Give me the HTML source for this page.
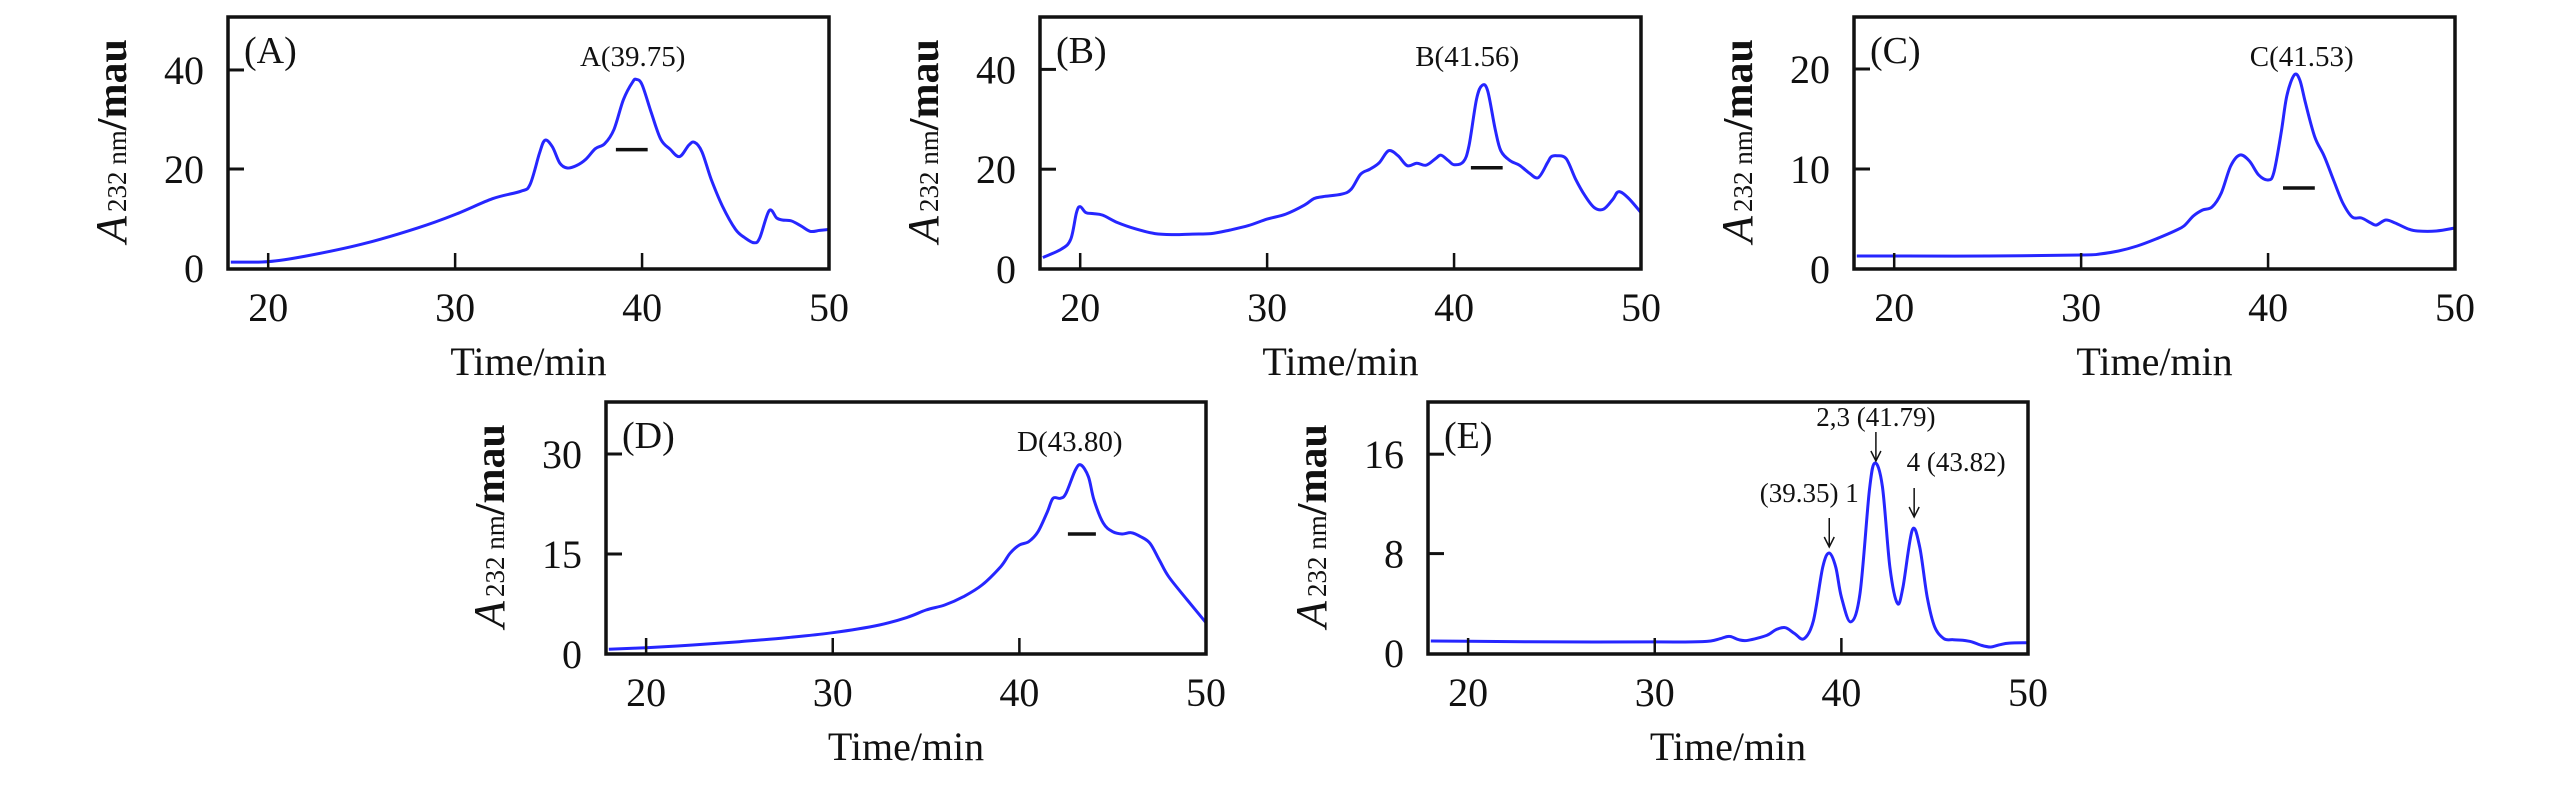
<!DOCTYPE html>
<html><head><meta charset="utf-8"><style>
html,body{margin:0;padding:0;background:#fff;}
svg{display:block;font-family:"Liberation Serif",serif;}
</style></head>
<body>
<svg id="fig" width="2567" height="787" viewBox="0 0 2567 787" xmlns="http://www.w3.org/2000/svg"></svg>
<script>
// ---- Data (time in min, absorbance in mau) ----
const timeA=[18,20,22,25,28,30,32,33.5,34,34.5,34.8,35.2,35.6,36,36.5,37,37.5,38,38.5,39,39.5,39.7,40,40.5,41,41.5,42,42.5,42.8,43.2,43.7,44.3,45,45.5,46,46.3,46.8,47.2,47.5,48,48.5,49,49.5,50];
const valA=[1.2,1.3,2.4,4.8,8.1,10.8,14,15.5,16.8,23,25.8,24.5,21.2,20.2,20.7,22,24.1,25.1,28,34,37.6,38.1,37,31.3,26,24,22.5,24.8,25.4,23.5,17.9,12.5,7.8,6.1,5.1,6.1,11.6,10.1,9.7,9.5,8.5,7.4,7.6,7.8];
const timeB=[18,19,19.5,19.8,20,20.3,20.7,21.2,22,23,24,25,26,27,28,29,30,31,32,32.5,33,34,34.5,35,35.5,36,36.5,37,37.5,38,38.5,39,39.3,39.7,40,40.5,40.8,41.2,41.5,41.8,42.2,42.5,43,43.5,44,44.5,45,45.2,45.5,46,46.5,47,47.5,48,48.5,48.8,49.3,50];
const valB=[2.3,4,6,11.3,12.5,11.3,11.1,10.8,9.3,8,7.1,6.9,7,7.1,7.8,8.7,10,11,12.8,14.1,14.5,15,16,19,20,21.3,23.7,22.7,20.7,21.2,20.8,22.1,22.8,21.7,20.9,21.5,24.7,34,36.8,35.7,28,23.7,21.7,20.8,19.3,18.3,21.3,22.5,22.7,22.1,18,14.7,12.3,12,14,15.5,14.3,11.3];
const timeC=[18,20,25,30,31,32,33,34,35,35.5,36,36.5,37,37.5,38,38.5,39,39.5,40,40.3,40.7,41,41.4,41.7,42,42.5,43,43.5,44,44.5,45,45.5,45.8,46.3,46.8,47.5,48,49,50];
const valC=[1.3,1.3,1.3,1.4,1.5,1.8,2.3,3,3.8,4.3,5.3,5.9,6.2,7.6,10.3,11.4,10.8,9.4,8.9,9.6,13.6,17.3,19.4,18.9,16.6,13.2,11.3,8.9,6.6,5.2,5.1,4.6,4.4,4.9,4.6,4,3.8,3.8,4.1];
const timeD=[18,20,22.5,25,27.5,30,32.5,34,35,36,37,38,39,39.5,40,40.5,41,41.5,41.8,42.2,42.5,43,43.3,43.7,44,44.5,45,45.5,46,46.5,47,47.5,48,49,50];
const valD=[0.7,0.95,1.35,1.85,2.45,3.2,4.35,5.5,6.6,7.35,8.6,10.35,13.1,15.1,16.35,16.85,18.35,21.35,23.35,23.35,24.1,27.6,28.35,26.6,23.1,19.6,18.35,18,18.2,17.6,16.6,14.1,11.6,8.1,4.7];
const timeE=[18,20,25,30,32,33,33.5,34,34.5,35,36,36.5,37,37.5,38,38.5,39,39.35,39.7,40,40.5,41,41.5,41.8,42.2,42.6,43,43.3,43.8,44.2,44.6,45,45.5,46,46.5,47,47.5,48,48.5,49,50];
const valE=[0.97,0.94,0.89,0.89,0.89,0.97,1.15,1.34,1.07,1.02,1.42,1.88,2.04,1.56,1.15,2.6,6.9,8.05,6.9,4.5,2.5,4.8,13.1,15.3,13.4,6.9,4,5.3,9.9,8.5,4.5,2.1,1.15,1.07,1.02,0.89,0.62,0.48,0.67,0.8,0.83];
const xTicks=[20,30,40,50];
const yTicksA=[0,20,40], yTicksB=[0,20,40], yTicksC=[0,10,20], yTicksD=[0,15,30], yTicksE=[0,8,16];
const panelLabels=["(A)","(B)","(C)","(D)","(E)"];
const peakLabels=["A(39.75)","B(41.56)","C(41.53)","D(43.80)"];
const peakBarsX=[[38.6,40.3],[40.9,42.6],[40.8,42.5],[42.6,44.1]];
const peakBarsY=[23.9,20.3,8.1,18];
const labelTimes=[39.5,40.7,41.8,42.7];
const arrowTimes=[39.35,41.85,43.9];
const arrowLabels=["(39.35) 1","2,3 (41.79)","4 (43.82)"];

const NS="http://www.w3.org/2000/svg";
const svg=document.getElementById('fig');
function mk(tag,attrs,parent){const e=document.createElementNS(NS,tag);for(const k in attrs)e.setAttribute(k,attrs[k]);(parent||svg).appendChild(e);return e;}

const panels=[
 {L:228,R:829,T:17,B:269,y0:-0.2,y1:50.7,t:timeA,v:valA,yt:yTicksA,name:'a'},
 {L:1040,R:1641,T:17,B:269,y0:0,y1:50.5,t:timeB,v:valB,yt:yTicksB,name:'b'},
 {L:1854,R:2455,T:17,B:269,y0:0,y1:25.2,t:timeC,v:valC,yt:yTicksC,name:'c'},
 {L:606,R:1206,T:402,B:654,y0:0,y1:37.8,t:timeD,v:valD,yt:yTicksD,name:'d'},
 {L:1428,R:2028,T:402,B:654,y0:-0.08,y1:20.2,t:timeE,v:valE,yt:yTicksE,name:'e'}
];
const X0=17.85,X1=50;

panels.forEach((p,i)=>{
  const g=mk('g',{});
  
  
  const sx=t=>p.L+(t-X0)/(X1-X0)*(p.R-p.L);
  const sy=v=>p.B-(v-p.y0)/(p.y1-p.y0)*(p.B-p.T);
  // curve (Catmull-Rom smoothing)
  const pts=p.t.map((t,k)=>[sx(t),sy(p.v[k])]);
  let d='M'+pts[0][0].toFixed(1)+','+pts[0][1].toFixed(1);
  for(let k=0;k<pts.length-1;k++){
    const p0=pts[Math.max(0,k-1)],p1=pts[k],p2=pts[k+1],p3=pts[Math.min(pts.length-1,k+2)];
    const c1=[p1[0]+(p2[0]-p0[0])/6,p1[1]+(p2[1]-p0[1])/6];
    const c2=[p2[0]-(p3[0]-p1[0])/6,p2[1]-(p3[1]-p1[1])/6];
    d+=' C'+c1[0].toFixed(1)+','+c1[1].toFixed(1)+' '+c2[0].toFixed(1)+','+c2[1].toFixed(1)+' '+p2[0].toFixed(1)+','+p2[1].toFixed(1);
  }
  const cp=mk('clipPath',{id:'clip'+i},g);
  mk('rect',{x:p.L,y:p.T,width:p.R-p.L,height:p.B-p.T},cp);
  const line=mk('path',{d:d,fill:'none',stroke:'#2626ff','stroke-width':3,'clip-path':'url(#clip'+i+')'},g);
  
  
  // frame
  const fr=mk('rect',{x:p.L,y:p.T,width:p.R-p.L,height:p.B-p.T,fill:'none',stroke:'#111','stroke-width':3.5},g);
  
  
  // x ticks & labels
  xTicks.forEach(t=>{
    const x=sx(t);
    if(t<X1) mk('line',{x1:x,y1:p.B,x2:x,y2:p.B-16,stroke:'#111','stroke-width':2.5},g);
    const tl=mk('text',{x:x,y:p.B+52,'font-size':40,'text-anchor':'middle',fill:'#111'},g);
    tl.textContent=t;
    
    
  });
  // y ticks & labels
  p.yt.forEach(v=>{
    const y=sy(v);
    if(v>p.y0+0.5) mk('line',{x1:p.L,y1:y,x2:p.L+16,y2:y,stroke:'#111','stroke-width':3},g);
    const tl=mk('text',{x:p.L-24,y:y+14,'font-size':40,'text-anchor':'end',fill:'#111'},g);
    tl.textContent=v;
    
    
  });
  // x title
  const xt=mk('text',{x:(p.L+p.R)/2,y:p.B+106,'font-size':40,'text-anchor':'middle',fill:'#111'},g);
  xt.textContent='Time/min';
  
  
  // y title
  const ycx=p.L-116, ycy=(p.T+p.B)/2-2;
  const yt=mk('text',{x:0,y:0,'font-size':40,'text-anchor':'middle',fill:'#111',transform:'translate('+ycx+','+ycy+') rotate(-90) translate(0,14)'},g);
  
  
  const s1=mk('tspan',{'font-style':'italic','font-size':44},yt);s1.textContent='A';
  const s2=mk('tspan',{'font-size':27,dx:4},yt);s2.textContent='232 nm';
  const s3=mk('tspan',{'font-weight':'bold','font-size':42},yt);s3.textContent='/mau';
  // panel label
  const pl=mk('text',{x:p.L+16,y:p.T+46,'font-size':38,fill:'#111'},g);
  pl.textContent=panelLabels[i];
  
  
  if(i<4){
    const bar=mk('line',{x1:sx(peakBarsX[i][0]),y1:sy(peakBarsY[i]),x2:sx(peakBarsX[i][1]),y2:sy(peakBarsY[i]),stroke:'#111','stroke-width':3.5},g);
    
    
    const lb=mk('text',{x:sx(labelTimes[i]),y:p.T+49,'font-size':29,'text-anchor':'middle',fill:'#111'},g);
    lb.textContent=peakLabels[i];
    
    
  } else {
    const aTop=[518,432,488], aLen=29;
    const lx=[-20,0,42], ly=[502,426,471];
    arrowTimes.forEach((t,k)=>{
      const x=sx(t);
      const a=mk('g',{},g);
      
      
      mk('line',{x1:x,y1:aTop[k],x2:x,y2:aTop[k]+aLen,stroke:'#111','stroke-width':1.5},a);
      mk('path',{d:'M'+(x-5)+','+(aTop[k]+aLen-10)+' L'+x+','+(aTop[k]+aLen)+' L'+(x+5)+','+(aTop[k]+aLen-10),fill:'none',stroke:'#111','stroke-width':1.5},a);
      const tx=mk('text',{x:x+lx[k],y:ly[k],'font-size':27,'text-anchor':'middle',fill:'#111'},g);
      tx.textContent=arrowLabels[k];
      
      
    });
  }
});
</script>
</body></html>
